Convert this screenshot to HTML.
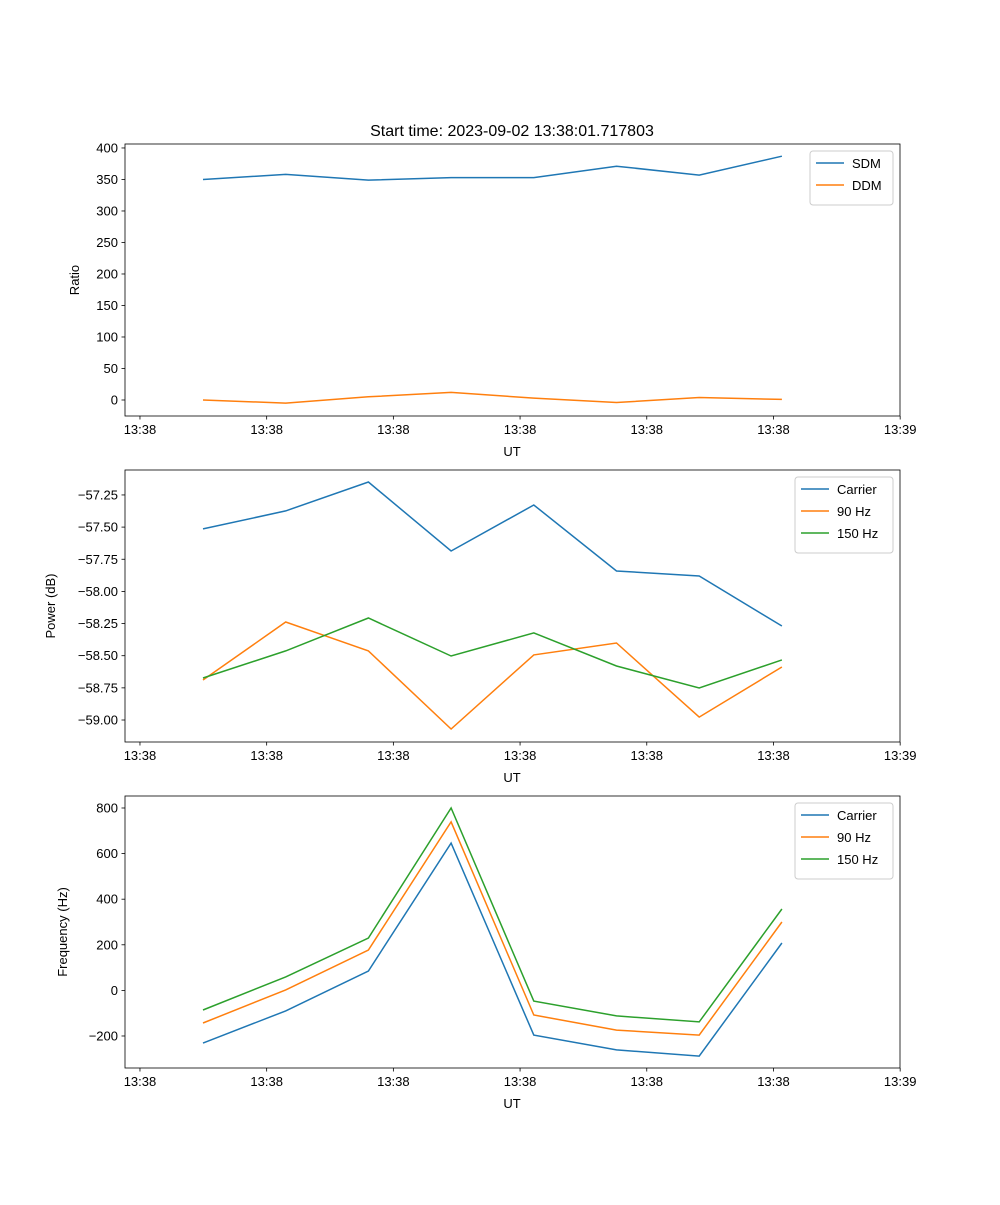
<!DOCTYPE html>
<html><head><meta charset="utf-8"><style>
body{margin:0;background:#fff;}
svg text{font-family:"Liberation Sans","DejaVu Sans",sans-serif;fill:#000;}
</style></head><body>
<svg id="fig" width="1000" height="1200" viewBox="0 0 1000 1200" xmlns="http://www.w3.org/2000/svg">
<rect width="1000" height="1200" fill="#fff"/>
<text x="512" y="136" font-size="16" text-anchor="middle">Start time: 2023-09-02 13:38:01.717803</text>
</svg>
<script>
const xIndex = [0,1,2,3,4,5,6,7];
const xTickVals = [-0.762,0.770,2.302,3.834,5.366,6.898,8.430];
const xTickLabels = ['13:38','13:38','13:38','13:38','13:38','13:38','13:39'];
const sdm = [350,358,349,353,353,371,357,387];
const ddm = [0,-5,5,12,3,-4,4,1];
const powCarrier = [-57.514,-57.374,-57.149,-57.686,-57.328,-57.841,-57.880,-58.269];
const pow90 = [-58.689,-58.238,-58.463,-59.070,-58.494,-58.401,-58.977,-58.588];
const pow150 = [-58.673,-58.463,-58.207,-58.502,-58.323,-58.580,-58.751,-58.533];
const freqCarrier = [-231,-90,85,646,-196,-261,-288,208];
const freq90 = [-143,2,177,739,-108,-174,-196,300];
const freq150 = [-86,59,230,800,-47,-112,-138,357];
const ticks1 = [0,50,100,150,200,250,300,350,400];
const ticks2 = [-59.00,-58.75,-58.50,-58.25,-58.00,-57.75,-57.50,-57.25];
const ticks3 = [-200,0,200,400,600,800];

const NS='http://www.w3.org/2000/svg';
const svg=document.getElementById('fig');
const C=['#1f77b4','#ff7f0e','#2ca02c'];
function el(t,a,p){const e=document.createElementNS(NS,t);for(const k in a)e.setAttribute(k,a[k]);(p||svg).appendChild(e);return e;}
const L=125,R=900,xmin=-0.943,xmax=8.428;
function xs(v){return L+(v-xmin)/(xmax-xmin)*(R-L);}

function panel(name,top,ymin,ymax,ticks,fmt,ylabel,series,legend){
  const bot=top+272;
  const g=el('g',{});
  
  
  const ys=v=>bot-(v-ymin)/(ymax-ymin)*(bot-top);
  series.forEach((s,i)=>{
    const pts=s.vals.map((v,j)=>xs(xIndex[j]).toFixed(1)+','+ys(v).toFixed(1)).join(' ');
    const pl=el('polyline',{points:pts,fill:'none',stroke:C[i],'stroke-width':1.5},g);
    
    
  });
  const fr=el('rect',{x:L,y:top,width:R-L,height:bot-top,fill:'none',stroke:'#000','stroke-width':0.8},g);
  
  
  xTickVals.forEach((v,i)=>{
    const x=xs(v);
    el('line',{x1:x,x2:x,y1:bot,y2:bot+3.5,stroke:'#000','stroke-width':0.8},g);
    const t=el('text',{x:x,y:bot+18,'font-size':13,'text-anchor':'middle'},g);
    
    
    t.textContent=xTickLabels[i];
  });
  ticks.forEach(v=>{
    const y=ys(v);
    el('line',{x1:L-3.5,x2:L,y1:y,y2:y,stroke:'#000','stroke-width':0.8},g);
    const t=el('text',{x:L-7,y:y+4.5,'font-size':13,'text-anchor':'end'},g);
    
    
    t.textContent=fmt(v);
  });
  const xl=el('text',{x:512,y:bot+40,'font-size':13,'text-anchor':'middle'},g);
  
  
  xl.textContent='UT';
  const yc=(top+bot)/2;
  const yl=el('text',{x:legend.yx,y:yc,'font-size':13,'text-anchor':'middle',transform:`rotate(-90 ${legend.yx} ${yc})`},g);
  
  
  yl.textContent=ylabel;
  const lx=legend.x, ly=top+7, lh=10+series.length*22;
  const lb=el('rect',{x:lx,y:ly,width:R-7-lx,height:lh,fill:'#fff',stroke:'#ccc',rx:3},g);
  
  
  series.forEach((s,i)=>{
    const y=ly+12+i*22;
    el('line',{x1:lx+6,x2:lx+34,y1:y,y2:y,stroke:C[i],'stroke-width':1.5},g);
    const t=el('text',{x:lx+42,y:y+5,'font-size':13},g);
    
    
    t.textContent=s.label;
  });
}
panel('ratio-panel',144,-25.4,406.3,ticks1,v=>String(v),'Ratio',
  [{id:'sdm',label:'SDM',vals:sdm},{id:'ddm',label:'DDM',vals:ddm}],{x:810,yx:79});
panel('power-panel',470,-59.171,-57.056,ticks2,v=>v.toFixed(2).replace('-','\u2212'),'Power (dB)',
  [{id:'power-carrier',label:'Carrier',vals:powCarrier},{id:'power-90hz',label:'90 Hz',vals:pow90},{id:'power-150hz',label:'150 Hz',vals:pow150}],{x:795,yx:55});
panel('frequency-panel',796,-340.4,852.6,ticks3,v=>String(v).replace('-','\u2212'),'Frequency (Hz)',
  [{id:'freq-carrier',label:'Carrier',vals:freqCarrier},{id:'freq-90hz',label:'90 Hz',vals:freq90},{id:'freq-150hz',label:'150 Hz',vals:freq150}],{x:795,yx:67});
</script>
</body></html>
